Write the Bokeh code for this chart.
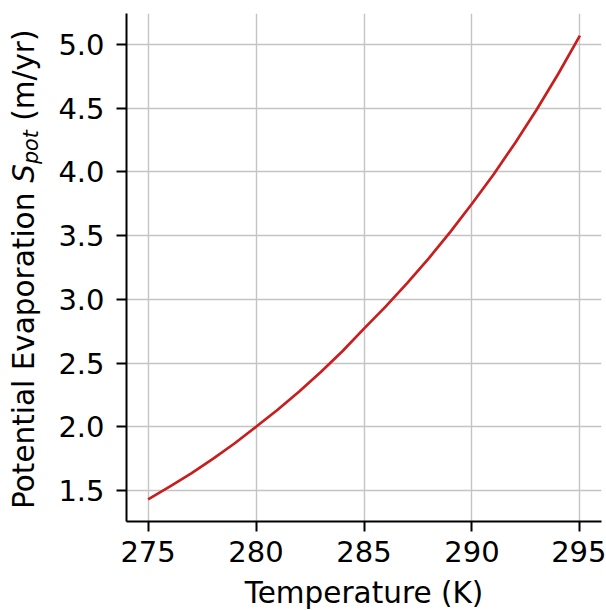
import math
from bokeh.plotting import figure
from bokeh.models import Range1d, FixedTicker, Label
from bokeh.layouts import row, column
from bokeh.embed import file_html
from bokeh.resources import INLINE

# --- data ---
temperature = [275, 276, 277, 278, 279, 280, 281, 282, 283, 284, 285,
               286, 287, 288, 289, 290, 291, 292, 293, 294, 295]
evaporation = [1.43, 1.53, 1.635, 1.748, 1.869, 2.00, 2.134, 2.277, 2.43, 2.593, 2.77,
               2.943, 3.127, 3.322, 3.53, 3.75, 3.98, 4.227, 4.49, 4.77, 5.07]
x_ticks = [275, 280, 285, 290, 295]
x_tick_labels = ["275", "280", "285", "290", "295"]
y_ticks = [1.5, 2.0, 2.5, 3.0, 3.5, 4.0, 4.5, 5.0]
y_tick_labels = ["1.5", "2.0", "2.5", "3.0", "3.5", "4.0", "4.5", "5.0"]
x_label = "Temperature (K)"
y_label_parts = ["Potential Evaporation", "S", "pot", "(m/yr)"]

FONT = "DejaVu Sans"
TICK_PX = 29
LABEL_PX = 29.5
HALF_AD = 0.346       # (ascent - descent) / 2 of DejaVu Sans, in em

W, H = 606, 610
YLAB_W = 45           # width of the strip holding the y-axis title
TOP_H = 575           # height of the row holding the plot
XLAB_H = H - TOP_H    # strip holding the x-axis title
B_TOP, B_BOTTOM = 13, 54

# ---------------- main plot ----------------
p = figure(width=W - YLAB_W, height=TOP_H, output_backend="svg", toolbar_location=None,
           x_range=Range1d(274, 296), y_range=Range1d(1.257, 5.243),
           min_border_left=126 - YLAB_W, min_border_right=5, min_border_top=B_TOP,
           min_border_bottom=B_BOTTOM)
p.outline_line_color = None
p.background_fill_color = "white"
p.border_fill_color = "white"

p.line(temperature, evaporation, line_color="#c81e1e", line_width=2.7)

for ax, ticks, labels, standoff in ((p.xaxis[0], x_ticks, x_tick_labels, 9),
                                    (p.yaxis[0], y_ticks, y_tick_labels, 12)):
    ax.ticker = FixedTicker(ticks=ticks)
    ax.major_label_overrides = {t: l for t, l in zip(ticks, labels)}
    ax.major_label_text_font = FONT
    ax.major_label_text_font_size = f"{TICK_PX}px"
    ax.major_label_text_color = "black"
    ax.major_label_standoff = standoff
    ax.axis_line_color = "black"
    ax.axis_line_width = 2
    ax.major_tick_line_color = "black"
    ax.major_tick_line_width = 2
    ax.major_tick_out = 10
    ax.major_tick_in = 0
    ax.minor_tick_line_color = None
    ax.axis_label = None

for g in (p.xgrid[0], p.ygrid[0]):
    g.grid_line_color = "#c4c4c4"
    g.grid_line_width = 1.4


def strip(width, height, top=0, bottom=0):
    # data coordinates = picture pixels, y measured up from the strip's bottom edge
    f = figure(width=width, height=height, output_backend="svg", toolbar_location=None,
               x_range=Range1d(0, width), y_range=Range1d(bottom, height - top),
               x_axis_type=None, y_axis_type=None,
               min_border=0, min_border_left=0, min_border_right=0,
               min_border_top=top, min_border_bottom=bottom)
    f.outline_line_color = None
    f.background_fill_color = "white"
    f.border_fill_color = "white"
    return f


# ---------------- y-axis title strip ----------------
ylab = strip(YLAB_W, TOP_H, top=B_TOP, bottom=B_BOTTOM)
sub_px = LABEL_PX * 0.7
base_x = 33.3                               # baseline of the rotated title
origin = 509.0                              # picture y of the start of "P"
adv_main = 10.759 * LABEL_PX                # "Potential Evaporation"
adv_space = 0.318 * LABEL_PX
adv_S = 0.635 * LABEL_PX
adv_pot = 1.639 * sub_px
adv_unit = 3.094 * LABEL_PX                 # "(m/yr)"

s_start = origin - adv_main - adv_space
pot_start = s_start - adv_S
unit_start = pot_start - adv_pot - adv_space
pieces = [
    (y_label_parts[0], base_x - HALF_AD * LABEL_PX, origin - adv_main / 2, LABEL_PX, "normal"),
    (y_label_parts[1], base_x - HALF_AD * LABEL_PX, s_start - adv_S / 2, LABEL_PX, "italic"),
    (y_label_parts[2], base_x + 4 - HALF_AD * sub_px, pot_start - adv_pot / 2, sub_px, "italic"),
    (y_label_parts[3], base_x - HALF_AD * LABEL_PX, unit_start - adv_unit / 2, LABEL_PX, "normal"),
]
for txt, cx, cy, size, style in pieces:
    ylab.add_layout(Label(x=cx, y=TOP_H - cy, text=txt, angle=math.pi / 2,
                          text_font=FONT, text_font_size=f"{size}px",
                          text_font_style=style, text_color="black",
                          text_align="center", text_baseline="middle"))

# ---------------- x-axis title strip ----------------
xlab = strip(W, XLAB_H)
x_baseline = 603.0
xlab.add_layout(Label(x=363.5, y=H - (x_baseline - HALF_AD * LABEL_PX), text=x_label,
                      text_font=FONT, text_font_size=f"{LABEL_PX}px", text_color="black",
                      text_align="center", text_baseline="middle"))

layout = column(row(ylab, p, spacing=0), xlab, spacing=0)
open("out.html", "w").write(file_html(layout, INLINE))
